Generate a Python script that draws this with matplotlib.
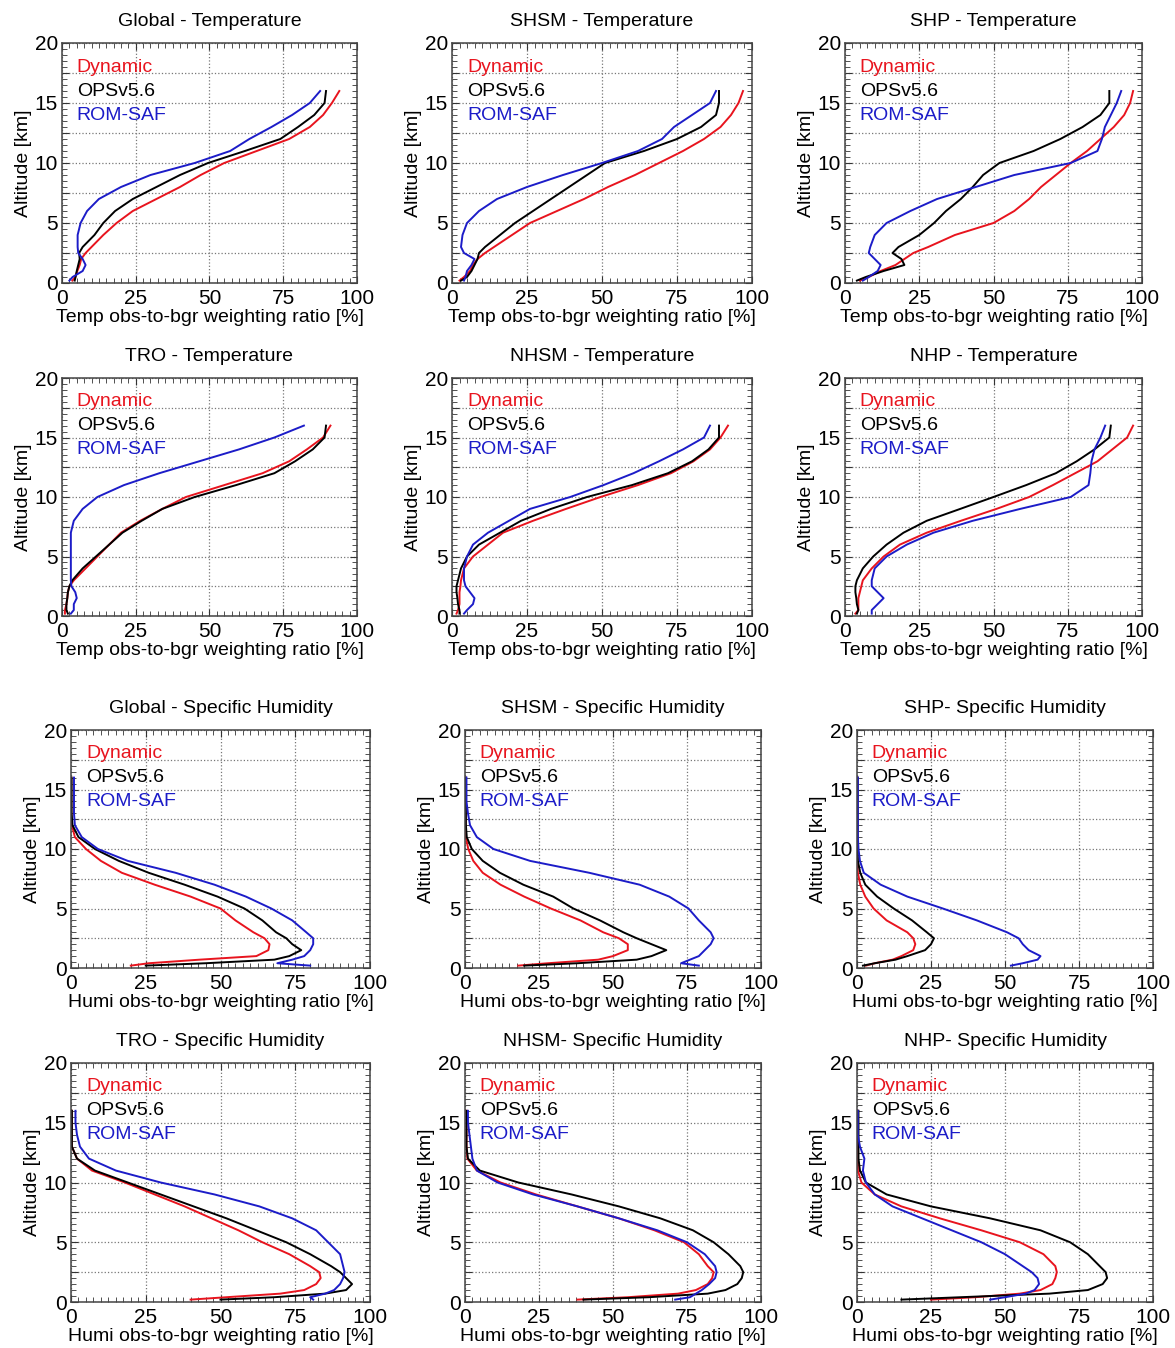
import matplotlib
matplotlib.use("Agg")
import matplotlib.pyplot as plt
from matplotlib.ticker import MultipleLocator, FuncFormatter

plt.rcParams['font.family'] = ['Liberation Sans', 'DejaVu Sans']

# altitude levels [km] shared by all profiles of one kind
ALT_T = [0.2, 0.5, 1, 1.5, 2, 2.5, 3, 4, 5, 6, 7, 8, 9, 10, 11, 12, 13, 14, 15, 16]
ALT_Q = [0.2, 0.4, 0.7, 1, 1.5, 2, 2.5, 3, 4, 5, 6, 7, 8, 9, 10, 11, 12, 13, 14, 15, 16]

# temperature weighting ratio [%]
glob_t_dyn = [3.5, 4.5, 5.2, 6, 6.5, 8, 10, 14, 18.5, 24, 32, 40, 47, 55, 66, 77, 84, 88.5, 91.5, 94]
glob_t_ops = [4.3, 4.6, 5, 5.5, 6, 5.8, 7, 11, 14, 18, 24, 32, 40, 49.5, 62, 74, 80, 85.5, 89, 89.5]
glob_t_rom = [2.5, 3.6, 7, 8, 7, 5.5, 5.3, 5.3, 6.3, 8.5, 12.5, 20, 30, 45, 57, 63.5, 71, 78, 84, 87.5]

shsm_t_dyn = [2.5, 4, 6, 7, 8.5, 11, 14, 20, 26, 35, 44, 52, 61, 69, 77, 84, 89.5, 93, 95.5, 97]
shsm_t_ops = [3, 5, 6.5, 7.5, 8.5, 9, 11, 16, 21, 27, 33, 39, 45, 51, 64, 75, 83, 88, 89, 89]
shsm_t_rom = [4, 4.5, 5, 6.5, 7.5, 4, 3, 3.5, 5, 9, 15, 25, 37, 50, 62, 70, 74, 80, 86, 88]

shp_t_dyn = [5, 8, 12, 17, 20, 23, 28, 37, 50, 57, 62, 66, 71, 76, 81.5, 86, 90.5, 94, 96, 97]
shp_t_ops = [4, 7, 13, 20, 19, 16, 18, 25, 30, 34, 39, 43, 46.5, 52, 63.5, 72.5, 80, 86, 89, 89]
shp_t_rom = [6, 8, 11, 12, 10, 8, 8.5, 10, 14, 22, 31, 44, 57, 76, 85, 86.5, 87.5, 89.5, 91.5, 93]

tro_t_dyn = [1, 1, 1.5, 1.8, 2, 2.5, 4, 8, 12, 16, 20, 26.5, 34, 42, 55, 68, 77, 83, 88.5, 91]
tro_t_ops = [2, 1.5, 1.5, 1.8, 2, 2.5, 3.5, 7, 11.5, 16, 20.5, 27, 34, 45, 59, 72, 79, 85, 89, 89.5]
tro_t_rom = [3, 4, 4, 5, 4.5, 3.2, 3, 3, 3, 3, 3, 4, 7, 12, 21, 33, 46.5, 60, 72, 82]

nhsm_t_dyn = [1.5, 2, 2.5, 2.5, 2.5, 2.8, 3, 4, 7, 12, 17, 27, 38, 49.5, 62, 73, 80.5, 86, 89.5, 92]
nhsm_t_ops = [2.5, 2.5, 2, 1.8, 1.5, 1.5, 2, 3, 5, 9, 16, 23, 33, 45, 60, 72, 80, 85.5, 89, 89]
nhsm_t_rom = [4, 5, 7, 7.5, 6, 4.5, 4, 4, 5, 7, 12, 19, 26, 39.4, 50.5, 60.5, 69, 77, 84, 86]

nhp_t_dyn = [3.5, 4.5, 4.5, 4.5, 5, 5.5, 6, 9, 13, 18.5, 27.5, 39, 51, 62, 70, 77.5, 85, 90, 95, 97]
nhp_t_ops = [4, 4.5, 4, 3.8, 3.5, 3.5, 4, 6, 9.5, 14, 19.7, 27.5, 38.8, 50, 61, 71, 78, 84, 89, 89.5]
nhp_t_rom = [9, 9, 11, 13, 11, 9, 9, 10, 14, 20.8, 29.8, 43, 59, 76, 82, 82.6, 83, 84, 86, 87.6]

# specific humidity weighting ratio [%]
glob_q_dyn = [20, 26, 43, 62, 66, 66.4, 64.7, 61, 55, 50, 40, 28, 17, 10, 5, 1.3, 0.3, 0.1, 0.1, 0.1, 0.1]
glob_q_ops = [25, 45, 68, 73, 77, 74, 72, 68.6, 64, 58, 49, 38, 26, 16, 8, 2.5, 0.5, 0.2, 0.2, 0.2, 0.2]
glob_q_rom = [80, 69, 74, 78, 80, 81, 81, 78.7, 74, 67, 58.5, 48, 35, 19, 9, 3.6, 1.3, 1, 1, 1, 1]

shsm_q_dyn = [18, 28, 45, 50, 55, 55, 52, 46.7, 39, 29, 20, 12, 6, 2.8, 1.1, 0.3, 0.2, 0.2, 0.2, 0.2, 0.2]
shsm_q_ops = [20, 38, 58, 63, 68, 63, 58, 53.5, 45.6, 36.6, 29.8, 19.7, 11.8, 6, 2.3, 0.6, 0.3, 0.3, 0.3, 0.3, 0.3]
shsm_q_rom = [79, 73, 76, 79, 81, 83, 84, 83, 79, 75.5, 69, 59, 42, 22, 9.6, 4, 1.7, 1, 0.5, 0.5, 0.5]

shp_q_dyn = [3, 6, 12, 15, 19, 19.7, 19, 17, 10, 5.6, 2.8, 1.1, 0.3, 0.1, 0.1, 0.1, 0.1, 0.1, 0.1, 0.1, 0.1]
shp_q_ops = [2, 6, 13, 17, 23, 25, 26, 23.6, 18.6, 12.4, 6.8, 2.8, 1.1, 0.3, 0.2, 0.2, 0.2, 0.2, 0.2, 0.2, 0.2]
shp_q_rom = [52, 56, 61, 62, 58, 56, 54.6, 50.7, 40.5, 29, 17, 8, 2.3, 1, 0.5, 0.3, 0.3, 0.3, 0.3, 0.3, 0.3]

tro_q_dyn = [40, 52, 70, 78, 82, 83.5, 83, 80, 73, 64, 56, 47, 38, 28, 18, 7, 2, 0.3, 0.3, 0.3, 0.3]
tro_q_ops = [50, 68, 85, 92, 94, 92, 90, 87, 80, 72, 62, 52, 41, 30, 19, 8, 2, 0.3, 0.3, 0.3, 0.3]
tro_q_rom = [81, 80, 85, 88, 90, 91, 91.5, 91, 90, 86, 82, 74, 63, 48, 30, 15, 6, 3, 2, 1.5, 1.5]

nhsm_q_dyn = [38, 55, 72, 78, 82, 83.5, 84, 82, 79, 74, 64, 52, 38, 24, 12, 4, 0.8, 0.5, 0.5, 0.5, 0.5]
nhsm_q_ops = [40, 62, 82, 88, 92, 93.5, 94, 93, 89, 84, 77, 66, 52, 36, 18, 5, 1, 0.5, 0.5, 0.5, 0.5]
nhsm_q_rom = [71, 76, 78, 80, 82.5, 84.5, 85, 84.5, 81, 75, 65, 52, 38, 23, 11, 4, 2.5, 2, 1.5, 1, 1]

nhp_q_dyn = [25, 40, 55, 62, 66, 67, 67.5, 67, 63, 55, 42, 28, 15, 6, 1.5, 0.3, 0.3, 0.3, 0.3, 0.3, 0.3]
nhp_q_ops = [15, 35, 65, 78, 83, 84.5, 84, 82, 78, 72, 62, 45, 25, 10, 3, 1, 0.5, 0.5, 0.5, 0.5, 0.5]
nhp_q_rom = [45, 50, 57, 60, 61.5, 61, 59, 56, 50, 42, 32, 22, 12, 6, 3, 2, 2.5, 1, 0.3, 0.3, 0.3]

titles = ["Global - Temperature", "SHSM - Temperature", "SHP - Temperature",
          "TRO - Temperature", "NHSM - Temperature", "NHP - Temperature",
          "Global - Specific Humidity", "SHSM - Specific Humidity", "SHP- Specific Humidity",
          "TRO - Specific Humidity", "NHSM- Specific Humidity", "NHP- Specific Humidity"]
series = [(glob_t_dyn, glob_t_ops, glob_t_rom), (shsm_t_dyn, shsm_t_ops, shsm_t_rom),
          (shp_t_dyn, shp_t_ops, shp_t_rom), (tro_t_dyn, tro_t_ops, tro_t_rom),
          (nhsm_t_dyn, nhsm_t_ops, nhsm_t_rom), (nhp_t_dyn, nhp_t_ops, nhp_t_rom),
          (glob_q_dyn, glob_q_ops, glob_q_rom), (shsm_q_dyn, shsm_q_ops, shsm_q_rom),
          (shp_q_dyn, shp_q_ops, shp_q_rom), (tro_q_dyn, tro_q_ops, tro_q_rom),
          (nhsm_q_dyn, nhsm_q_ops, nhsm_q_rom), (nhp_q_dyn, nhp_q_ops, nhp_q_rom)]
names = ["Dynamic", "OPSv5.6", "ROM-SAF"]
colors = ["#e8141e", "black", "#1c1cc8"]

W, H = 1175, 1348
fig = plt.figure(figsize=(W / 100, H / 100), dpi=100)

# pixel boxes of the panels: (left, right) per column, (top, bottom) per row
cols_t = [(62, 357), (452, 752), (845, 1142)]
cols_q = [(71, 370), (465, 761), (857, 1153)]
rows = [(43, 283), (378, 616), (730, 968), (1063, 1302)]

for i in range(12):
    r, c = divmod(i, 3)
    humi = r >= 2
    l, rr = (cols_q if humi else cols_t)[c]
    t, b = rows[r]
    ax = fig.add_axes([l / W, 1 - b / H, (rr - l) / W, (b - t) / H])
    alt = ALT_Q if humi else ALT_T
    for vals, col in zip(series[i], colors):
        ax.plot(vals, alt, color=col, lw=1.4)
    ax.set_xlim(0, 100)
    ax.set_ylim(0, 20)
    ax.xaxis.set_major_locator(MultipleLocator(25))
    ax.xaxis.set_minor_locator(MultipleLocator(2.5))
    ax.yaxis.set_major_locator(MultipleLocator(2.5))
    ax.yaxis.set_minor_locator(MultipleLocator(0.5))
    ax.yaxis.set_major_formatter(FuncFormatter(lambda v, p: f"{v:g}" if v % 5 == 0 else ""))
    ax.tick_params(which='both', direction='in', top=True, right=True, labelsize=15, color='#333')
    ax.tick_params(which='major', length=5)
    ax.tick_params(axis='x', which='major', pad=4)
    ax.tick_params(axis='y', which='major', pad=3)
    ax.tick_params(which='minor', length=3.5)
    ax.grid(True, which='major', linestyle=':', color='#777', lw=0.9)
    for s in ax.spines.values():
        s.set_color('#444')
        s.set_linewidth(1.1)
    ax.set_title(titles[i], fontsize=14, pad=12)
    ax.set_xlabel(("Humi" if humi else "Temp") + " obs-to-bgr weighting ratio [%]", fontsize=14, labelpad=1)
    ax.set_ylabel("Altitude [km]", fontsize=14, labelpad=2)
    for k, (nm, col) in enumerate(zip(names, colors)):
        ax.text(0.05, 0.9 - 0.1 * k, nm, color=col, fontsize=14, transform=ax.transAxes,
                ha='left', va='center')

fig.savefig("out.png", dpi=100)
